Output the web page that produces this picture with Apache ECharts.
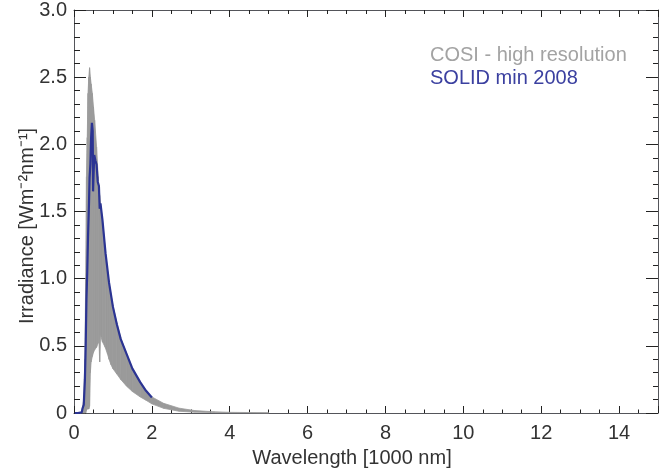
<!DOCTYPE html>
<html>
<head>
<meta charset="utf-8">
<script src="https://cdn.jsdelivr.net/npm/echarts@6/dist/echarts.min.js"></script>
<style>html,body{margin:0;padding:0;background:#fff;}#c{width:662px;height:471px;}</style>
</head>
<body>
<div id="c"></div>
<script>
const cosiWl    = [0.15,0.20,0.25,0.28,0.30,0.32,0.34,0.36,0.38,0.40,0.42,0.44,0.47,0.50,0.53,0.58,0.62,0.64,0.66,0.68,0.73,0.80,0.86,0.90,0.95,1.00,1.10,1.20,1.35,1.50,1.70,1.85,2.00,2.30,2.70,3.10,3.60,4.00,5.00];
const cosiUpper = [0.0,0.005,0.10,0.40,1.00,1.76,2.05,2.38,2.50,2.57,2.50,2.45,2.38,2.28,2.18,1.98,1.76,1.69,1.62,1.56,1.44,1.22,1.06,0.97,0.88,0.80,0.67,0.56,0.44,0.33,0.23,0.165,0.12,0.072,0.036,0.018,0.009,0.005,0.002];
const cosiLower = [0.0,0.0,0.0,0.0,0.0,0.02,0.03,0.03,0.03,0.05,0.30,0.38,0.42,0.45,0.47,0.49,0.52,0.55,0.38,0.58,0.53,0.49,0.44,0.40,0.36,0.33,0.29,0.25,0.20,0.16,0.12,0.095,0.068,0.035,0.013,0.006,0.003,0.002,0.001];
const solidWl  = [0.02,0.10,0.20,0.22,0.25,0.28,0.30,0.32,0.34,0.36,0.385,0.40,0.42,0.44,0.46,0.48,0.49,0.50,0.52,0.55,0.58,0.61,0.64,0.66,0.68,0.73,0.81,0.90,1.00,1.10,1.20,1.35,1.50,1.70,1.85,2.00];
const solidIrr = [0.0,0.0,0.005,0.035,0.06,0.25,0.50,0.85,1.05,1.31,1.56,1.75,1.85,2.05,2.16,2.10,1.65,1.75,1.92,1.88,1.85,1.72,1.69,1.52,1.56,1.44,1.19,0.97,0.79,0.66,0.55,0.44,0.33,0.23,0.165,0.115];
const xTicks = [0,2,4,6,8,10,12,14];
const yTicks = [0,0.5,1.0,1.5,2.0,2.5,3.0];

const bandData = [];
for (let i = 0; i < cosiWl.length - 1; i++) {
  bandData.push([cosiWl[i], cosiLower[i], cosiUpper[i], cosiWl[i+1], cosiLower[i+1], cosiUpper[i+1]]);
}
const solidData = solidWl.map((w,i)=>[w, solidIrr[i]]);

const FONT = 'Liberation Sans';
const GRAY = '#9a9a9a';
const INK = '#222';
const chart = echarts.init(document.getElementById('c'));

function tick(len){ return {show:true, inside:true, length:len, lineStyle:{color:INK, width:1}}; }
function minor(n, len){ return {show:true, splitNumber:n, length:len, lineStyle:{color:INK, width:1}}; }

chart.setOption({
  animation:false,
  grid:{left:74, right:4, top:10, bottom:58},
  xAxis:[
    {type:'value', min:0, max:15, interval:2, position:'bottom',
      axisLine:{show:true, onZero:false}, splitLine:{show:false},
      axisTick:tick(7), minorTick:minor(4, 3.5),
      axisLabel:{fontFamily:FONT, fontSize:20, color:'#333', margin:10, showMaxLabel:false}},
    {type:'value', min:0, max:15, interval:2, position:'top',
      axisLine:{show:true, onZero:false}, splitLine:{show:false},
      axisTick:tick(7), minorTick:minor(4, 4),
      axisLabel:{show:false}}
  ],
  yAxis:[
    {type:'value', min:0, max:3, interval:0.5, position:'left',
      axisLine:{show:true, onZero:false}, splitLine:{show:false},
      axisTick:tick(12), minorTick:minor(5, 6),
      axisLabel:{fontFamily:FONT, fontSize:20, color:'#333', margin:7,
        formatter:v=>{const t=yTicks.find(a=>Math.abs(a-v)<1e-9); return t===undefined?'':(t===0?'0':t.toFixed(1));}}},
    {type:'value', min:0, max:3, interval:0.5, position:'right',
      axisLine:{show:true, onZero:false}, splitLine:{show:false},
      axisTick:tick(12), minorTick:minor(5, 5),
      axisLabel:{show:false}}
  ],
  series:[
    {type:'custom', name:'COSI - high resolution', data:bandData, silent:true, z:3,
      encode:{x:[0,3], y:[1,2,4,5]},
      renderItem:function(params, api){
        const p1 = api.coord([api.value(0), api.value(2)]);
        const p2 = api.coord([api.value(3), api.value(5)]);
        const p3 = api.coord([api.value(3), api.value(4)]);
        const p4 = api.coord([api.value(0), api.value(1)]);
        return {type:'polygon', shape:{points:[p1,p2,p3,p4]},
          style:{fill:GRAY, stroke:GRAY, lineWidth:0.8}};
      }},
    {type:'line', name:'SOLID min 2008', data:solidData, symbol:'none', silent:true,
      lineStyle:{width:2.2, color:'#2b3493'}, z:4}
  ],
  graphic:[
    {type:'text', left:430, top:45, style:{text:'COSI - high resolution', fontFamily:FONT, fontSize:20, fill:'#a3a3a3'}},
    {type:'text', left:430, top:68, style:{text:'SOLID min 2008', fontFamily:FONT, fontSize:20, fill:'#3b40a0'}},
    {type:'text', x:352, y:458, style:{text:'Wavelength [1000 nm]', fontFamily:FONT, fontSize:20, fill:'#333', align:'center', verticalAlign:'middle'}},
    {type:'text', x:27, y:226, rotation:Math.PI/2, style:{text:'Irradiance [Wm\u207B\u00B2nm\u207B\u00B9]', fontFamily:FONT, fontSize:20, fill:'#333', align:'center', verticalAlign:'middle'}}
  ]
});
</script>
</body>
</html>
